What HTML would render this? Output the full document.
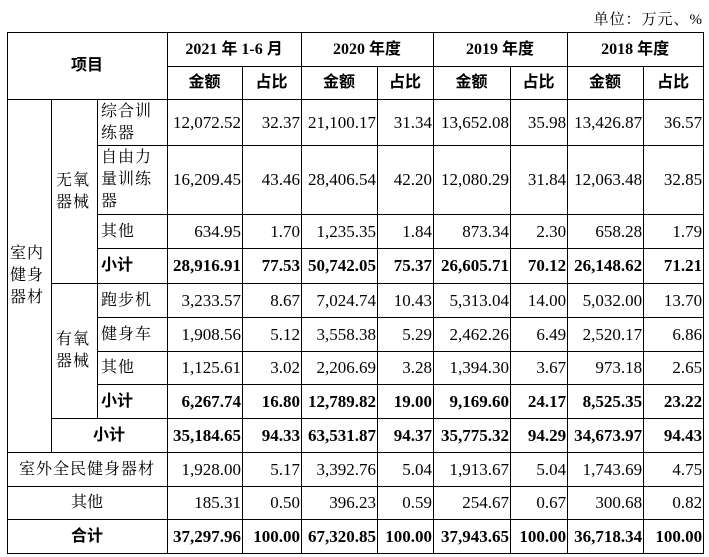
<!DOCTYPE html>
<html><head><meta charset="utf-8"><style>
body{margin:0;width:709px;height:557px;background:#fff;position:relative;font-family:"Liberation Serif","Noto Serif CJK SC",serif;color:#000;overflow:hidden}
.unit{position:absolute;right:6px;top:8px;font-size:15px;letter-spacing:1px}
table{position:absolute;left:7px;top:32px;border-collapse:collapse;table-layout:fixed;width:696px}
td{border:1.5px solid #000;padding:0 1px 0 0;font-size:17px;line-height:22px;text-align:right;white-space:nowrap;overflow:hidden}
.h{font-family:"Liberation Serif","Noto Sans CJK SC",sans-serif;font-weight:bold;text-align:center;font-size:16px}
.c{text-align:center;font-size:16px}
.l{text-align:left;white-space:normal;letter-spacing:1px;padding-left:3px;font-size:16px}
.w{white-space:normal;text-align:left;padding-left:4px;letter-spacing:1px;font-size:16px}
.b{font-weight:bold}
.bc{font-family:"Liberation Serif","Noto Sans CJK SC",sans-serif;font-weight:bold;text-align:left;padding-left:3px;font-size:16px}
</style></head><body>
<div class="unit">单位：万元、%</div>
<table>
<colgroup><col style="width:44px"><col style="width:46px"><col style="width:70px"><col style="width:75px"><col style="width:59px"><col style="width:76px"><col style="width:56px"><col style="width:77px"><col style="width:57px"><col style="width:76px"><col style="width:60px"></colgroup>
<tr style="height:34px"><td class="h" colspan="3" rowspan="2">项目</td><td class="h" colspan="2">2021 年 1-6 月</td><td class="h" colspan="2">2020 年度</td><td class="h" colspan="2">2019 年度</td><td class="h" colspan="2">2018 年度</td></tr>
<tr style="height:33px"><td class="h">金额</td><td class="h">占比</td><td class="h">金额</td><td class="h">占比</td><td class="h">金额</td><td class="h">占比</td><td class="h">金额</td><td class="h">占比</td></tr>
<tr style="height:46px"><td class="w" rowspan="9" style="padding-left:2px">室内健身器材</td><td class="w" rowspan="4">无氧器械</td><td class="l">综合训练器</td><td>12,072.52</td><td>32.37</td><td>21,100.17</td><td>31.34</td><td>13,652.08</td><td>35.98</td><td>13,426.87</td><td>36.57</td></tr>
<tr style="height:69px"><td class="l">自由力量训练器</td><td>16,209.45</td><td>43.46</td><td>28,406.54</td><td>42.20</td><td>12,080.29</td><td>31.84</td><td>12,063.48</td><td>32.85</td></tr>
<tr style="height:34px"><td class="l">其他</td><td>634.95</td><td>1.70</td><td>1,235.35</td><td>1.84</td><td>873.34</td><td>2.30</td><td>658.28</td><td>1.79</td></tr>
<tr style="height:35px" class="b"><td class="bc">小计</td><td>28,916.91</td><td>77.53</td><td>50,742.05</td><td>75.37</td><td>26,605.71</td><td>70.12</td><td>26,148.62</td><td>71.21</td></tr>
<tr style="height:34px"><td class="w" rowspan="4">有氧器械</td><td class="l">跑步机</td><td>3,233.57</td><td>8.67</td><td>7,024.74</td><td>10.43</td><td>5,313.04</td><td>14.00</td><td>5,032.00</td><td>13.70</td></tr>
<tr style="height:34px"><td class="l">健身车</td><td>1,908.56</td><td>5.12</td><td>3,558.38</td><td>5.29</td><td>2,462.26</td><td>6.49</td><td>2,520.17</td><td>6.86</td></tr>
<tr style="height:33px"><td class="l">其他</td><td>1,125.61</td><td>3.02</td><td>2,206.69</td><td>3.28</td><td>1,394.30</td><td>3.67</td><td>973.18</td><td>2.65</td></tr>
<tr style="height:34px" class="b"><td class="bc">小计</td><td>6,267.74</td><td>16.80</td><td>12,789.82</td><td>19.00</td><td>9,169.60</td><td>24.17</td><td>8,525.35</td><td>23.22</td></tr>
<tr style="height:34px" class="b"><td class="h" colspan="2">小计</td><td>35,184.65</td><td>94.33</td><td>63,531.87</td><td>94.37</td><td>35,775.32</td><td>94.29</td><td>34,673.97</td><td>94.43</td></tr>
<tr style="height:34px"><td class="c" colspan="3" style="letter-spacing:1px">室外全民健身器材</td><td>1,928.00</td><td>5.17</td><td>3,392.76</td><td>5.04</td><td>1,913.67</td><td>5.04</td><td>1,743.69</td><td>4.75</td></tr>
<tr style="height:33px"><td class="c" colspan="3">其他</td><td>185.31</td><td>0.50</td><td>396.23</td><td>0.59</td><td>254.67</td><td>0.67</td><td>300.68</td><td>0.82</td></tr>
<tr style="height:34px" class="b"><td class="h" colspan="3">合计</td><td>37,297.96</td><td>100.00</td><td>67,320.85</td><td>100.00</td><td>37,943.65</td><td>100.00</td><td>36,718.34</td><td>100.00</td></tr>
</table>
</body></html>
